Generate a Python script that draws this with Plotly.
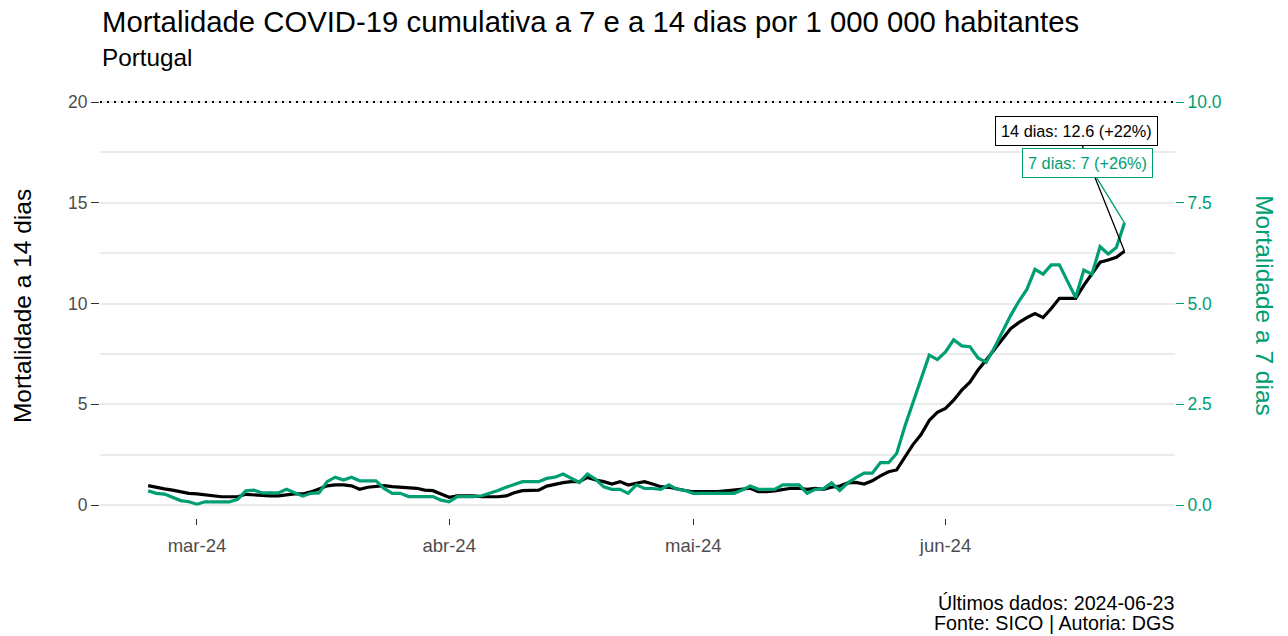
import pandas as pd
import plotly.graph_objects as go

start_date = "2024-02-24"
end_date = "2024-06-23"

mort_14 = [
    0.96, 0.86, 0.80, 0.74, 0.66, 0.58, 0.55, 0.50, 0.46, 0.41,
    0.41, 0.41, 0.53, 0.50, 0.45, 0.45, 0.45, 0.50, 0.55, 0.55,
    0.65, 0.80, 0.95, 1.00, 1.00, 0.95, 0.78, 0.88, 0.91, 0.96,
    0.91, 0.88, 0.83, 0.83, 0.74, 0.71, 0.55, 0.38, 0.45, 0.45,
    0.45, 0.41, 0.41, 0.41, 0.45, 0.61, 0.71, 0.71, 0.74, 0.94,
    1.04, 1.11, 1.16, 1.16, 1.37, 1.24, 1.16, 1.04, 1.16, 0.99,
    1.08, 1.16, 1.04, 0.91, 0.88, 0.78, 0.72, 0.66, 0.66, 0.66,
    0.66, 0.70, 0.74, 0.78, 0.83, 0.66, 0.66, 0.70, 0.78, 0.83,
    0.83, 0.78, 0.83, 0.78, 0.88, 0.94, 1.10, 1.12, 1.04, 1.20,
    1.45, 1.65, 1.74, 2.40, 3.00, 3.50, 4.20, 4.60, 4.80, 5.20,
    5.70, 6.10, 6.70, 7.20, 7.70, 8.20, 8.75, 9.05, 9.30, 9.50,
    9.30, 9.75, 10.26, 10.26, 10.26, 10.90, 11.50, 12.05, 12.16, 12.30,
    12.60,
]

mort_7 = [
    0.35, 0.29, 0.27, 0.19, 0.11, 0.08, 0.02, 0.08, 0.08, 0.08,
    0.08, 0.14, 0.35, 0.37, 0.30, 0.30, 0.30, 0.39, 0.30, 0.22,
    0.29, 0.30, 0.58, 0.69, 0.62, 0.69, 0.60, 0.60, 0.60, 0.41,
    0.29, 0.29, 0.21, 0.21, 0.21, 0.21, 0.12, 0.08, 0.21, 0.21,
    0.21, 0.23, 0.29, 0.36, 0.44, 0.52, 0.58, 0.58, 0.58, 0.66,
    0.69, 0.77, 0.66, 0.56, 0.77, 0.64, 0.45, 0.39, 0.39, 0.29,
    0.50, 0.41, 0.41, 0.39, 0.50, 0.39, 0.36, 0.29, 0.29, 0.29,
    0.29, 0.29, 0.29, 0.37, 0.47, 0.39, 0.39, 0.39, 0.50, 0.50,
    0.50, 0.29, 0.39, 0.40, 0.55, 0.36, 0.55, 0.68, 0.79, 0.79,
    1.05, 1.05, 1.28, 1.95, 2.55, 3.10, 3.72, 3.61, 3.80, 4.10,
    3.95, 3.93, 3.65, 3.54, 3.90, 4.30, 4.70, 5.05, 5.35, 5.85,
    5.73, 5.96, 5.96, 5.55, 5.15, 5.83, 5.73, 6.41, 6.23, 6.39,
    7.00,
]

tick_dates = ["2024-03-01", "2024-04-01", "2024-05-01", "2024-06-01"]
tick_labels = ["mar-24", "abr-24", "mai-24", "jun-24"]

y14_ticks = [0, 5, 10, 15, 20]
y7_ticks = [0, 2.5, 5, 7.5, 10]

label_14 = "14 dias: 12.6 (+22%)"
label_7 = "7 dias: 7 (+26%)"

dates = pd.date_range(start_date, end_date, freq="D")

GREEN = "#009E73"
GREY_TXT = "#4D4D4D"
FONT = "Liberation Sans, Arial, sans-serif"

y1_range = [-0.645, 20.6]
y2_range = [y1_range[0] / 2, y1_range[1] / 2]

fig = go.Figure()
fig.add_trace(go.Scatter(x=dates, y=mort_14, mode="lines",
                         line=dict(color="black", width=3.2), yaxis="y",
                         name="14 dias"))
fig.add_trace(go.Scatter(x=dates, y=mort_7, mode="lines",
                         line=dict(color=GREEN, width=3.2), yaxis="y2",
                         name="7 dias"))

fig.update_layout(
    width=1288, height=636,
    margin=dict(l=100, r=113, t=90, b=118, autoexpand=False),
    paper_bgcolor="white", plot_bgcolor="white",
    showlegend=False,
    font=dict(family=FONT, color="black"),
    xaxis=dict(
        range=["2024-02-18 02:00", "2024-06-29 05:00"],
        tickvals=tick_dates, ticktext=tick_labels,
        showgrid=False, zeroline=False, showline=False,
        ticks="outside", ticklen=6, tickwidth=1.2, tickcolor="#333333",
        ticklabelstandoff=5,
        tickfont=dict(size=18.5, color=GREY_TXT),
    ),
    yaxis=dict(
        range=y1_range, tickvals=y14_ticks,
        showgrid=True, gridcolor="#EBEBEB", gridwidth=1.5,
        zeroline=False, showline=False,
        ticks="outside", ticklen=8, tickwidth=1.2, tickcolor="#333333",
        tickfont=dict(size=17.5, color=GREY_TXT),
        minor=dict(tickvals=[2.5, 7.5, 12.5, 17.5], showgrid=True,
                   gridcolor="#EBEBEB", gridwidth=1.5, ticks=""),
    ),
    yaxis2=dict(
        range=y2_range, tickvals=y7_ticks,
        ticktext=[f"{v:.1f}" for v in y7_ticks],
        overlaying="y", side="right",
        showgrid=False, zeroline=False, showline=False,
        ticks="outside", ticklen=8, tickwidth=1.2, tickcolor=GREEN,
        tickfont=dict(size=17.5, color=GREEN),
    ),
)

fig.add_shape(type="line", xref="paper", x0=0, x1=1, yref="y", y0=20, y1=20,
              line=dict(color="black", width=2, dash="2px,5px"))

annotations = [
    dict(text="Mortalidade COVID-19 cumulativa a 7 e a 14 dias por 1 000 000 habitantes",
         xref="paper", yref="paper", x=0, y=1.159, xanchor="left", yanchor="middle",
         showarrow=False, font=dict(size=29.3, color="black")),
    dict(text="Portugal", xref="paper", yref="paper", x=0, y=1.075,
         xanchor="left", yanchor="middle", showarrow=False,
         font=dict(size=24.3, color="black")),
    dict(text="Mortalidade a 14 dias", xref="paper", yref="paper",
         x=-0.0726, y=0.495, xanchor="center", yanchor="middle",
         textangle=-90, showarrow=False, font=dict(size=24.5, color="black")),
    dict(text="Mortalidade a 7 dias", xref="paper", yref="paper",
         x=1.0837, y=0.495, xanchor="center", yanchor="middle",
         textangle=90, showarrow=False, font=dict(size=24.5, color=GREEN)),
    dict(text="Últimos dados: 2024-06-23",
         xref="paper", yref="paper", x=1.001, y=-0.199, xanchor="right",
         yanchor="middle", showarrow=False,
         font=dict(size=19.7, color="black")),
    dict(text="Fonte: SICO | Autoria: DGS",
         xref="paper", yref="paper", x=1.001, y=-0.245, xanchor="right",
         yanchor="middle", showarrow=False,
         font=dict(size=19.7, color="black")),
    dict(text=label_14, x=dates[-1], y=mort_14[-1], xref="x", yref="y",
         ax=-48, ay=-120, axref="pixel", ayref="pixel",
         showarrow=True, arrowhead=0, arrowwidth=1.3, arrowcolor="black",
         standoff=0, bgcolor="white", bordercolor="black", borderwidth=1,
         borderpad=5, font=dict(size=16.3, color="black")),
    dict(text=label_7, x=dates[-1], y=mort_7[-1], xref="x", yref="y2",
         ax=-37, ay=-60, axref="pixel", ayref="pixel",
         showarrow=True, arrowhead=0, arrowwidth=1.3, arrowcolor=GREEN,
         standoff=0, bgcolor="white", bordercolor=GREEN, borderwidth=1,
         borderpad=5, font=dict(size=16.3, color=GREEN)),
]
fig.update_layout(annotations=annotations)

fig.write_html(
    "out.html",
    config={"displayModeBar": False},
    post_script="document.body.style.margin='0';document.body.style.overflow='hidden';",
)
